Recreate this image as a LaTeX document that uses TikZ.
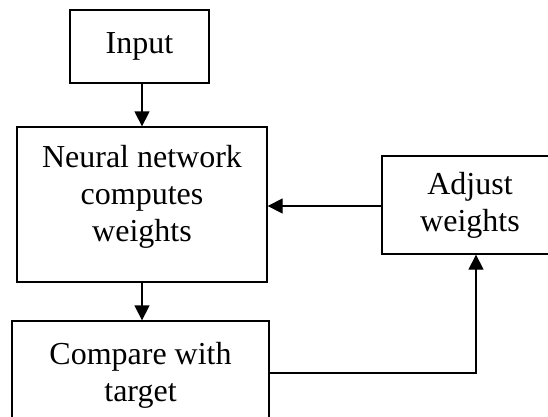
\documentclass[tikz,border=0pt]{standalone}
\usepackage{fontspec}
\setmainfont{Liberation Serif}
\usetikzlibrary{arrows.meta,calc}

\begin{document}
\begin{tikzpicture}[x=1pt,y=1pt,
  box/.style={draw=black,line width=1.3pt,align=center,inner sep=0pt,
              font=\fontsize{32}{37}\selectfont},
  arr/.style={line width=1.3pt,-{Triangle[width=15pt,length=15pt]}}]
  \useasboundingbox (0,0) rectangle (548,-416);
  \clip (0,0) rectangle (548,-416);

  \node[box,minimum width=139pt,minimum height=73pt] (input) at (139.5,-46.5) {Input};
  \node[box,minimum width=250pt,minimum height=155pt] (nn) at (142,-204.5) {};
  \node[align=center,inner sep=0pt,font=\fontsize{32}{37}\selectfont] (nntext)
       at (142,-197) {Neural network\\computes\\weights};
  \node[box,minimum width=176pt,minimum height=98pt] (adjust) at (470,-205)
       {Adjust\\weights};
  \node[box,minimum width=257pt,minimum height=109pt] (compare) at (140.5,-375.5)
       {Compare with\\target};

  \draw[arr] (nn.north |- input.south) -- (nn.north);
  \draw[arr] (nn.south) -- (nn.south |- compare.north);
  \draw[arr] ([yshift=-1pt]adjust.west) -- ([yshift=-1pt]adjust.west -| nn.east);
  \draw[arr] ([yshift=2.5pt]compare.east) -| ([xshift=6pt]adjust.south);
\end{tikzpicture}
\end{document}
